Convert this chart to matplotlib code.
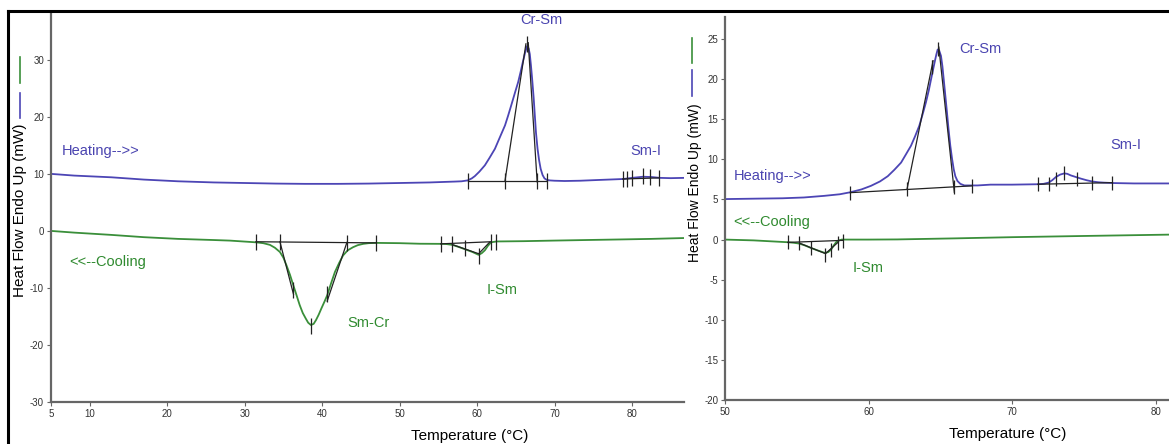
import matplotlib
matplotlib.use("Agg")
import matplotlib.pyplot as plt
from matplotlib.lines import Line2D

plt.rcParams['font.family'] = ['Liberation Sans', 'DejaVu Sans']
plt.rcParams['axes.unicode_minus'] = False

BLUE = '#4c45b5'
GREEN = '#3a8f3a'
BLUE_TXT = '#4a44b0'
GREEN_TXT = '#2f8a2f'
INK = '#222222'
AXC = '#666666'

# ---- left run: heating / cooling traces (T in C, heat flow in mW)
heat1_t = [5, 8, 12.8, 17, 21.4, 26, 30, 34, 37.8, 42, 46, 50, 53.9, 56, 57.1, 58.0, 58.76,
           59.3, 59.7, 60.3, 61.0, 61.6, 62.3, 62.9, 63.6, 64.0, 64.4, 64.9, 65.3, 65.6, 65.9,
           66.2, 66.45, 66.65, 66.8, 66.95, 67.1, 67.3, 67.45, 67.6, 67.8, 68.0, 68.2, 68.45,
           68.7, 69.0, 69.4, 70.0, 71.3, 73.3, 76, 78.85, 80, 81.4, 82.5, 83.6, 85, 86.7]
heat1_q = [10.0, 9.7, 9.4, 9.0, 8.7, 8.5, 8.4, 8.3, 8.25, 8.25, 8.3, 8.4, 8.5, 8.6, 8.65, 8.7, 8.85,
           9.2, 9.6, 10.4, 11.5, 12.8, 14.4, 16.3, 18.5, 20.2, 22.0, 24.3, 26.1, 27.8, 29.6,
           31.3, 32.4, 32.0, 31.0, 29.0, 26.7, 23.3, 20.2, 17.2, 14.4, 12.4, 10.9, 9.8,
           9.2, 8.95, 8.85, 8.8, 8.75, 8.8, 8.95, 9.1, 9.3, 9.5, 9.45, 9.3, 9.25, 9.3]
cool1_t = [5, 8, 12.8, 17, 21.4, 26, 28.1, 31.45, 32.4, 33.26, 33.9, 34.55, 35.0, 35.4, 35.85,
           36.27, 36.7, 37.1, 37.5, 37.9, 38.2, 38.55, 38.9, 39.2, 39.55, 39.9, 40.3, 40.65,
           41.15, 41.65, 42.2, 42.7, 43.3, 44.0, 44.6, 45.3, 46.0, 46.9, 50, 52.6, 55.3, 56.0,
           56.8, 57.6, 58.5, 59.4, 60.2, 60.6, 61.0, 61.4, 61.8, 62.5, 66, 69.8, 74, 78.4,
           82.5, 86.7]
cool1_q = [0.0, -0.3, -0.7, -1.1, -1.4, -1.6, -1.7, -2.0, -2.15, -2.45, -2.95, -3.7, -4.7, -6.05,
           -7.7, -9.5, -11.3, -13.0, -14.4, -15.4, -16.1, -16.5, -16.3, -15.65, -14.7, -13.6,
           -12.4, -11.3, -9.2, -7.2, -5.6, -4.3, -3.4, -2.85, -2.5, -2.27, -2.15, -2.1, -2.15,
           -2.25, -2.27, -2.3, -2.45, -2.8, -3.25, -3.7, -4.2, -3.9, -3.4, -2.6, -2.0, -1.85,
           -1.8, -1.7, -1.6, -1.5, -1.4, -1.25]

# peak-analysis construction lines (left)
crsm1_base = ([58.76, 69.0], [8.8, 8.8])
crsm1_tan_l = ([63.6, 66.3], [8.8, 32.8])
crsm1_tan_r = ([66.6, 67.75], [33.0, 8.6])
crsm1_marks = ([58.76, 63.6, 67.7, 69.0, 66.45], [8.8, 8.8, 8.8, 8.8, 32.8])
smi1_base = ([78.8, 83.5], [9.1, 9.3])
smi1_marks = ([78.8, 79.3, 80.0, 81.4, 82.3, 83.5], [9.1, 9.15, 9.2, 9.6, 9.5, 9.3])
smcr1_base = ([31.45, 46.9], [-1.9, -2.1])
smcr1_tan_l = ([34.55, 36.3], [-1.9, -11.1])
smcr1_tan_r = ([43.2, 40.65], [-2.0, -12.3])
smcr1_marks = ([31.45, 34.55, 43.2, 46.9, 36.2, 40.6, 38.55],
               [-1.9, -1.95, -2.05, -2.1, -10.4, -11.0, -16.6])
ism1_base = ([55.3, 61.8], [-2.27, -1.9])
ism1_tan = ([56.8, 60.2, 61.6], [-2.4, -4.0, -2.0])
ism1_marks = ([55.3, 56.8, 58.5, 60.2, 61.8, 62.5], [-2.27, -2.3, -3.0, -4.4, -2.0, -1.9])

# ---- right run
heat2_t = [50, 52, 54, 55.5, 56.9, 58, 58.73, 59.5, 60.17, 60.8, 61.34, 61.8, 62.27, 62.6,
           62.96, 63.25, 63.54, 63.8, 64.0, 64.2, 64.36, 64.5, 64.63, 64.73, 64.82, 64.92,
           65.05, 65.15, 65.24, 65.35, 65.47, 65.58, 65.7, 65.82, 65.94, 66.05, 66.2, 66.4,
           66.68, 67.6, 68.5, 70, 71.8, 72.2, 72.55, 72.8, 73.06, 73.35, 73.64, 73.85, 74.1,
           74.45, 74.8, 75.2, 75.57, 76.0, 76.4, 77.0, 78.5, 81]
heat2_q = [5.05, 5.1, 5.15, 5.25, 5.45, 5.65, 5.9, 6.25, 6.7, 7.25, 7.9, 8.7, 9.6, 10.6,
           11.7, 12.9, 14.2, 15.8, 17.1, 18.6, 20.0, 21.2, 22.3, 23.1, 23.7, 23.6,
           22.9, 21.6, 20.0, 18.0, 15.8, 13.7, 11.7, 10.1, 8.75, 7.9, 7.3, 6.95,
           6.75, 6.75, 6.85, 6.85, 6.9, 6.95, 7.1, 7.4, 7.8, 8.1, 8.25, 8.2, 8.0,
           7.8, 7.6, 7.4, 7.25, 7.15, 7.1, 7.05, 7.0, 7.0]
cool2_t = [50, 52, 54.37, 54.8, 55.18, 55.6, 56.0, 56.5, 56.97, 57.2, 57.39, 57.55, 57.74,
           57.95, 58.13, 60, 62, 66, 70, 75, 81]
cool2_q = [0.0, -0.1, -0.33, -0.4, -0.5, -0.75, -1.05, -1.38, -1.67, -1.55, -1.25, -0.8, -0.33,
           -0.1, 0.0, 0.0, 0.02, 0.15, 0.3, 0.45, 0.62]

crsm2_base = ([58.73, 67.2], [5.85, 6.7])
crsm2_tan_l = ([62.68, 64.5], [6.25, 22.3])
crsm2_tan_r = ([64.9, 65.98], [24.0, 5.9])
crsm2_marks = ([58.73, 62.68, 65.98, 67.2, 64.82, 64.4], [5.85, 6.25, 6.6, 6.7, 23.8, 21.5])
smi2_base = ([71.8, 77.0], [6.9, 7.1])
smi2_marks = ([71.8, 72.6, 73.1, 73.6, 74.5, 75.6, 77.0], [6.9, 6.9, 7.6, 8.3, 7.6, 7.1, 7.1])
ism2_base = ([54.37, 58.2], [-0.35, -0.1])
ism2_tan = ([55.2, 57.0, 57.9], [-0.45, -1.75, -0.3])
ism2_marks = ([54.37, 55.18, 56.0, 56.97, 57.4, 57.9, 58.2], [-0.35, -0.45, -1.1, -1.9, -1.3, -0.4, -0.2])

fig = plt.figure(figsize=(11.69, 4.44), dpi=100)
ax1 = fig.add_axes([0.0436, 0.0946, 0.5415, 0.876])
ax2 = fig.add_axes([0.6202, 0.0991, 0.3798, 0.8626])


def style(ax):
    for s in ['top', 'right']:
        ax.spines[s].set_visible(False)
    for s in ['left', 'bottom']:
        ax.spines[s].set_color(AXC)
        ax.spines[s].set_linewidth(1.6)
    ax.tick_params(length=3, width=0.8, color=AXC, labelsize=7, labelcolor='#333333', pad=2)


def construct(ax, lines, marks, ms):
    for xs, ys in lines:
        ax.plot(xs, ys, color=INK, lw=0.9)
    for xs, ys in marks:
        ax.plot(xs, ys, ls='none', marker='|', ms=ms, mew=0.9, color=INK)


# left
ax1.plot(heat1_t, heat1_q, color=BLUE, lw=1.3)
ax1.plot(cool1_t, cool1_q, color=GREEN, lw=1.3)
construct(ax1, [crsm1_base, crsm1_tan_l, crsm1_tan_r, smi1_base, smcr1_base, smcr1_tan_l,
                smcr1_tan_r, ism1_base, ism1_tan],
          [crsm1_marks, smi1_marks, smcr1_marks, ism1_marks], 11)
ax1.set_xlim(5, 86.7)
ax1.set_ylim(-30, 38.2)
ax1.set_xticks([5, 10, 20, 30, 40, 50, 60, 70, 80])
ax1.set_yticks([-30, -20, -10, 0, 10, 20, 30])
style(ax1)
ax1.text(68.3, 37.0, 'Cr-Sm', color=BLUE_TXT, fontsize=10.5, ha='center', va='center')
ax1.text(81.8, 14.0, 'Sm-I', color=BLUE_TXT, fontsize=10.5, ha='center', va='center')
ax1.text(6.4, 14.0, 'Heating-->>', color=BLUE_TXT, fontsize=10.5, ha='left', va='center')
ax1.text(7.3, -5.4, '<<--Cooling', color=GREEN_TXT, fontsize=10.5, ha='left', va='center')
ax1.text(46.0, -16.2, 'Sm-Cr', color=GREEN_TXT, fontsize=10.5, ha='center', va='center')
ax1.text(63.2, -10.3, 'I-Sm', color=GREEN_TXT, fontsize=10.5, ha='center', va='center')

# right
ax2.plot(heat2_t, heat2_q, color=BLUE, lw=1.3)
ax2.plot(cool2_t, cool2_q, color=GREEN, lw=1.3)
construct(ax2, [crsm2_base, crsm2_tan_l, crsm2_tan_r, smi2_base, ism2_base, ism2_tan],
          [crsm2_marks, smi2_marks, ism2_marks], 9.5)
ax2.set_xlim(50, 80.94)
ax2.set_ylim(-20, 27.75)
ax2.set_xticks([50, 60, 70, 80])
ax2.set_yticks([-20, -15, -10, -5, 0, 5, 10, 15, 20, 25])
style(ax2)
ax2.text(66.3, 23.75, 'Cr-Sm', color=BLUE_TXT, fontsize=10.5, ha='left', va='center')
ax2.text(77.9, 11.75, 'Sm-I', color=BLUE_TXT, fontsize=10.5, ha='center', va='center')
ax2.text(50.6, 7.9, 'Heating-->>', color=BLUE_TXT, fontsize=10.5, ha='left', va='center')
ax2.text(50.55, 2.25, '<<--Cooling', color=GREEN_TXT, fontsize=10.5, ha='left', va='center')
ax2.text(60.0, -3.5, 'I-Sm', color=GREEN_TXT, fontsize=10.5, ha='center', va='center')

# axis titles with coloured trace keys
W, H = 1169.0, 444.0
fig.text(20 / W, 1 - 210 / H, 'Heat Flow Endo Up (mW)', rotation=90, fontsize=11,
         ha='center', va='center')
fig.text(695 / W, 1 - 183 / H, 'Heat Flow Endo Up (mW)', rotation=90, fontsize=10,
         ha='center', va='center')
fig.text(470 / W, 1 - 436 / H, 'Temperature (°C)', fontsize=11, ha='center', va='center')
fig.text(1008 / W, 1 - 434 / H, 'Temperature (°C)', fontsize=11, ha='center', va='center')
for (x, y0, y1, c) in [(20, 57, 83, GREEN), (20, 93, 118, BLUE),
                       (692, 38, 63, GREEN), (692, 70, 96, BLUE)]:
    fig.add_artist(Line2D([x / W, x / W], [1 - y0 / H, 1 - y1 / H], color=c, lw=1.2))

# frame
fig.add_artist(Line2D([8 / W, 1.0], [1 - 11 / H, 1 - 11 / H], color='black', lw=2.2))
fig.add_artist(Line2D([8 / W, 8 / W], [1 - 11 / H, 0.0], color='black', lw=2.2))

fig.savefig('out.png', dpi=100)
